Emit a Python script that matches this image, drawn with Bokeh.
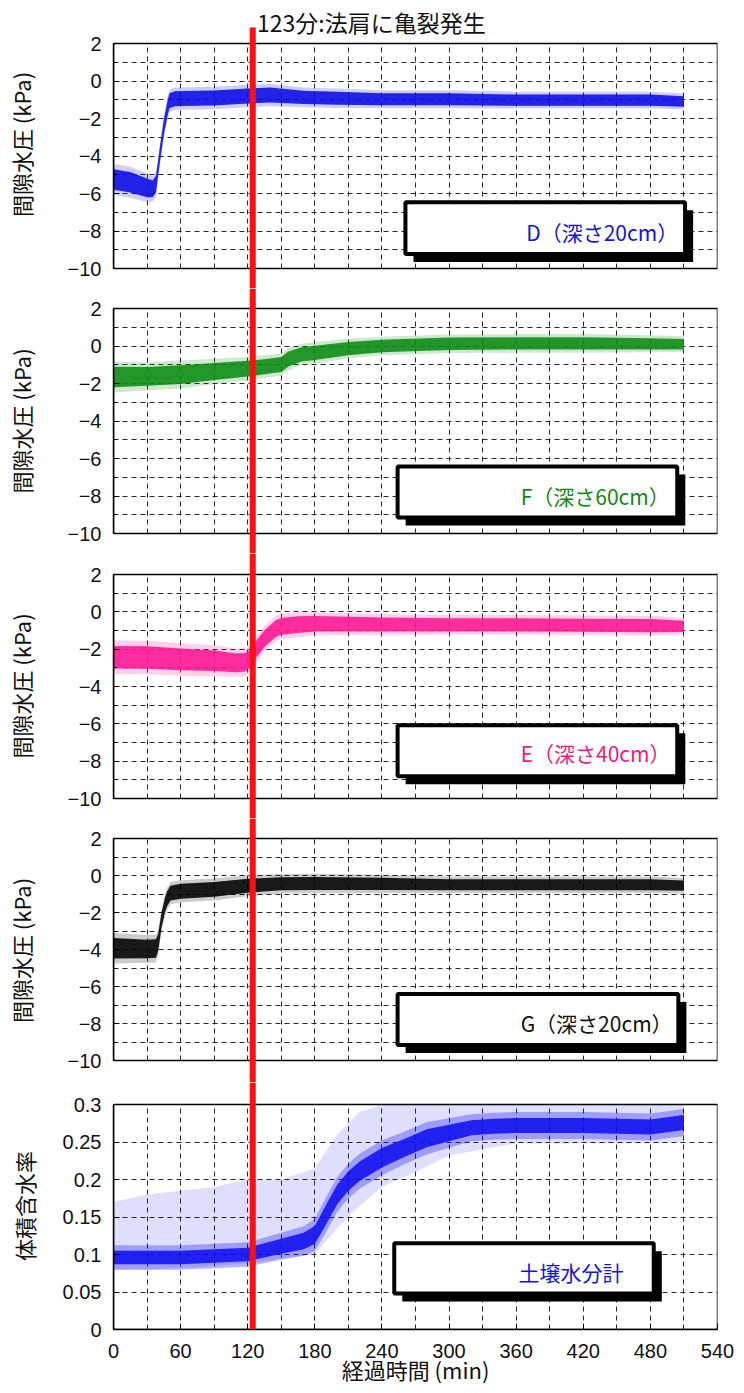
from bokeh.plotting import figure
from bokeh.layouts import column
from bokeh.models import BoxAnnotation, Label, FixedTicker, Range1d, Grid
from bokeh.embed import file_html
from bokeh.resources import INLINE

# ---------------- data ----------------
event_time = 123
event_text = "123分:法肩に亀裂発生"

x_ticks = [0, 60, 120, 180, 240, 300, 360, 420, 480, 540]
x_grid = list(range(0, 541, 30))
x_label = "経過時間 (min)"

kpa_ticks = [-10, -8, -6, -4, -2, 0, 2]
kpa_tick_labels = ["−10", "−8", "−6", "−4", "−2", "0", "2"]
kpa_grid = list(range(-10, 3))
kpa_label = "間隙水圧 (kPa)"

vwc_ticks = [0, 0.05, 0.1, 0.15, 0.2, 0.25, 0.3]
vwc_tick_labels = ["0", "0.05", "0.1", "0.15", "0.2", "0.25", "0.3"]
vwc_label = "体積含水率"

# D (depth 20cm)
t_D = [0, 15, 30, 35, 38, 40, 42, 45, 48, 50, 55, 60, 90, 120, 140, 170, 200, 240, 300, 360, 420, 480, 510]
D = [-5.25, -5.4, -5.7, -5.75, -5.5, -4.6, -3.7, -2.45, -1.55, -1.05, -0.95, -0.93, -0.9, -0.8, -0.75,
     -0.87, -0.92, -0.97, -0.97, -1.02, -1.02, -1.02, -1.09]
D_spread = [0.55, 0.55, 0.5, 0.45, 0.45, 0.4, 0.4, 0.4, 0.4, 0.4, 0.4, 0.4, 0.4, 0.4, 0.4, 0.35, 0.35,
            0.32, 0.32, 0.3, 0.3, 0.3, 0.28]

# F (depth 60cm)
t_F = [0, 30, 60, 90, 120, 135, 150, 156, 168, 180, 210, 240, 300, 360, 420, 480, 510]
F = [-1.65, -1.62, -1.52, -1.36, -1.21, -1.1, -0.98, -0.7, -0.45, -0.36, -0.14, 0.0, 0.12, 0.14, 0.14, 0.12, 0.1]
F_spread = [0.55, 0.5, 0.5, 0.45, 0.42, 0.4, 0.4, 0.4, 0.38, 0.38, 0.35, 0.33, 0.33, 0.33, 0.33, 0.3, 0.28]

# E (depth 40cm)
t_E = [0, 30, 60, 90, 110, 118, 124, 128, 135, 145, 150, 165, 180, 240, 300, 360, 420, 480, 510]
E = [-2.43, -2.45, -2.55, -2.62, -2.73, -2.7, -2.4, -1.97, -1.43, -0.9, -0.78, -0.68, -0.64, -0.68,
     -0.7, -0.7, -0.72, -0.74, -0.78]
E_spread = [0.6, 0.6, 0.58, 0.55, 0.5, 0.5, 0.45, 0.45, 0.45, 0.45, 0.45, 0.45, 0.42, 0.38, 0.35,
            0.35, 0.35, 0.35, 0.3]

# G (depth 20cm)
t_G = [0, 30, 38, 40, 43, 46, 48, 51, 60, 90, 120, 150, 180, 240, 300, 360, 420, 480, 510]
G = [-3.93, -3.97, -3.95, -3.6, -2.4, -1.6, -1.25, -0.95, -0.85, -0.75, -0.55, -0.45, -0.43, -0.45,
     -0.5, -0.5, -0.5, -0.5, -0.55]
G_spread = [0.55, 0.5, 0.5, 0.45, 0.4, 0.4, 0.4, 0.4, 0.4, 0.4, 0.38, 0.35, 0.35, 0.33, 0.3, 0.3, 0.3, 0.3, 0.28]

# soil moisture meter
t_M = [0, 60, 90, 120, 150, 170, 180, 190, 200, 210, 220, 240, 260, 280, 300, 320, 340, 360, 420, 480, 510]
M = [0.096, 0.096, 0.098, 0.1, 0.111, 0.118, 0.126, 0.153, 0.18, 0.198, 0.211, 0.229, 0.242, 0.255,
     0.262, 0.269, 0.271, 0.272, 0.272, 0.27, 0.276]
M_spread = [0.009, 0.009, 0.009, 0.009, 0.01, 0.011, 0.012, 0.013, 0.013, 0.013, 0.013, 0.013, 0.012,
            0.012, 0.011, 0.01, 0.01, 0.01, 0.01, 0.01, 0.01]
# diffuse cloud of scattered readings around the moisture band
t_Mc = [0, 30, 60, 90, 120, 150, 180, 200, 220, 240, 270, 300, 360, 420, 480, 510]
Mc_low = [0.08, 0.08, 0.082, 0.085, 0.088, 0.095, 0.1, 0.135, 0.165, 0.19, 0.21, 0.232, 0.248, 0.248, 0.248, 0.25]
Mc_high = [0.17, 0.18, 0.185, 0.19, 0.2, 0.2, 0.215, 0.26, 0.29, 0.3, 0.3, 0.3, 0.3, 0.3, 0.3, 0.3]

series_names = ["D（深さ20cm）", "F（深さ60cm）", "E（深さ40cm）", "G（深さ20cm）", "土壌水分計"]
series_colors = ["#0a0ae6", "#0b8a12", "#ff1493", "#000000", "#0a0af0"]
label_colors = ["#1414d2", "#138a13", "#ee1a86", "#111111", "#1414d2"]

# ---------------- styling / page geometry (pixels) ----------------
JP = "Noto Sans CJK JP"
NUM = "Liberation Sans"
FRAME_W = 604
LEFT, RIGHT = 113, 17
fig_tops = [0, 288, 553, 818, 1082]
fig_bots = [288, 553, 818, 1082, 1329]     # frame bottoms (last one: panel bottom)
panel_tops = [43, 308, 574, 838, 1104]
panel_bots = [268, 533, 798, 1060, 1329]
HAS_CROSS = "cross_bounds" in Grid.properties()


def make_fig(i, ylo, yhi):
    ft, fb, pt, pb = fig_tops[i], fig_bots[i], panel_tops[i], panel_bots[i]
    scale = (yhi - ylo) / (pb - pt)
    rtop = yhi + (pt - ft) * scale
    rbot = ylo - (fb - pb) * scale
    p = figure(frame_width=FRAME_W, frame_height=fb - ft, output_backend="svg", toolbar_location=None,
               x_range=Range1d(0, 540), y_range=Range1d(rbot, rtop),
               x_axis_location=("below" if i == 4 else None),
               min_border_left=LEFT, min_border_right=RIGHT,
               min_border_top=0, min_border_bottom=0)
    p.outline_line_color = None
    p.background_fill_color = "white"
    p.border_fill_color = "white"
    for g in (p.xgrid, p.ygrid):
        g.grid_line_color = "#111111"
        g.grid_line_dash = "5 4"
        g.grid_line_width = 1
        g.grid_line_alpha = 0.9
    if HAS_CROSS:
        p.xgrid.ticker = FixedTicker(ticks=x_grid)
        p.xgrid.cross_bounds = (ylo, yhi)
    else:
        p.xgrid.visible = False
        p.segment(x0=x_grid, x1=x_grid, y0=[ylo] * len(x_grid), y1=[yhi] * len(x_grid),
                  line_color="#111111", line_dash="5 4", line_width=1, line_alpha=0.9)
    ax = p.yaxis[0]
    ax.bounds = (ylo, yhi)
    ax.axis_line_color = "black"
    ax.axis_line_width = 1.5
    ax.major_tick_in = 6
    ax.major_tick_out = 0
    ax.minor_tick_in = 3
    ax.minor_tick_out = 0
    ax.major_label_text_font = NUM
    ax.major_label_text_font_size = "20px"
    ax.major_label_text_color = "#111111"
    ax.major_label_standoff = 12
    ax.axis_label_text_font = JP
    ax.axis_label_text_font_style = "normal"
    ax.axis_label_text_font_size = "22px"
    ax.axis_label_text_color = "#111111"
    if i == 4:
        xa = p.xaxis[0]
        xa.ticker = FixedTicker(ticks=x_ticks)
        xa.axis_line_color = "black"
        xa.axis_line_width = 1.5
        xa.major_tick_in = 6
        xa.major_tick_out = 0
        xa.minor_tick_in = 0
        xa.minor_tick_out = 0
        xa.major_label_text_font = NUM
        xa.major_label_text_font_size = "20px"
        xa.major_label_text_color = "#111111"
        xa.major_label_standoff = 14
        xa.axis_label = x_label
        xa.axis_label_text_font = JP
        xa.axis_label_text_font_style = "normal"
        xa.axis_label_text_font_size = "22px"
        xa.axis_label_text_color = "#111111"
        xa.axis_label_standoff = -8
    return p, scale


def finish(p, i, ylo, yhi, scale):
    # panel frame
    p.quad(left=0, right=540, bottom=ylo, top=yhi, fill_color=None, line_color="black", line_width=1.5)
    # event line (runs through the gaps between panels)
    top = yhi + (panel_tops[0] - 27) * scale if i == 0 else None
    p.add_layout(BoxAnnotation(left=event_time - 1.2, right=event_time + 4.2, top=top,
                               fill_color="#ff1010", fill_alpha=1, line_color=None, level="overlay"))


def add_legend_box(p, box, dx, dy, text, color, tx, ty):
    x0, x1, y0, y1 = box
    p.add_layout(BoxAnnotation(left=x0 + dx, right=x1 + dx, top=y0 - dy, bottom=y1 - dy,
                               fill_color="black", fill_alpha=1, line_color=None))
    p.add_layout(BoxAnnotation(left=x0, right=x1, top=y0, bottom=y1, fill_color="white", fill_alpha=1,
                               line_color="black", line_width=4, line_alpha=1))
    p.add_layout(Label(x=tx, y=ty, text=text, text_font=JP, text_font_size="21px", text_color=color,
                       text_baseline="middle", text_align="left"))


def kpa_panel(i, t, c, s, box, text_x, text_y):
    p, scale = make_fig(i, -10, 2)
    ax = p.yaxis[0]
    ax.ticker = FixedTicker(ticks=kpa_ticks, minor_ticks=kpa_grid)
    ax.major_label_overrides = dict(zip(kpa_ticks, kpa_tick_labels))
    ax.axis_label = kpa_label
    ax.axis_label_standoff = 28
    p.ygrid.ticker = FixedTicker(ticks=kpa_grid)
    color = series_colors[i]
    lo = [ci - si for ci, si in zip(c, s)]
    hi = [ci + si for ci, si in zip(c, s)]
    lo2 = [ci - 1.5 * si for ci, si in zip(c, s)]
    hi2 = [ci + 1.5 * si for ci, si in zip(c, s)]
    p.varea(x=t, y1=lo2, y2=hi2, fill_color=color, fill_alpha=0.2)
    p.varea(x=t, y1=lo, y2=hi, fill_color=color, fill_alpha=0.88)
    finish(p, i, -10, 2, scale)
    add_legend_box(p, box, 7.2, 8 * scale, series_names[i], label_colors[i], text_x, text_y)
    if i == 0:
        p.add_layout(Label(x=event_time, y=2 + 22 * scale, x_offset=6, text=event_text, text_font=JP,
                           text_font_size="23px", text_color="#111111", text_baseline="middle",
                           text_align="left"))
    return p


p1 = kpa_panel(0, t_D, D, D_spread, (261, 511, -6.47, -9.23), 369, -8.05)
p2 = kpa_panel(1, t_F, F, F_spread, (254, 504, -6.42, -9.14), 364, -7.98)
p3 = kpa_panel(2, t_E, E, E_spread, (254, 504, -6.08, -8.81), 364, -7.58)
p4 = kpa_panel(3, t_G, G, G_spread, (254, 505, -6.41, -9.16), 364, -7.95)

# moisture panel
p5, sc5 = make_fig(4, 0, 0.3)
ax5 = p5.yaxis[0]
ax5.ticker = FixedTicker(ticks=vwc_ticks)
ax5.major_label_overrides = dict(zip(vwc_ticks, vwc_tick_labels))
ax5.axis_label = vwc_label
ax5.axis_label_standoff = 20
p5.ygrid.ticker = FixedTicker(ticks=vwc_ticks)
p5.varea(x=t_Mc, y1=Mc_low, y2=Mc_high, fill_color=series_colors[4], fill_alpha=0.13)
p5.varea(x=t_M, y1=[c - 1.8 * s for c, s in zip(M, M_spread)], y2=[c + 1.8 * s for c, s in zip(M, M_spread)],
         fill_color=series_colors[4], fill_alpha=0.3)
p5.varea(x=t_M, y1=[c - s for c, s in zip(M, M_spread)], y2=[c + s for c, s in zip(M, M_spread)],
         fill_color=series_colors[4], fill_alpha=0.85)
finish(p5, 4, 0, 0.3, sc5)
add_legend_box(p5, (251, 483, 0.115, 0.048), 7.2, 8 * sc5, series_names[4], label_colors[4], 362, 0.0768)

layout = column(p1, p2, p3, p4, p5, spacing=0)
open("out.html", "w").write(file_html(layout, INLINE))
